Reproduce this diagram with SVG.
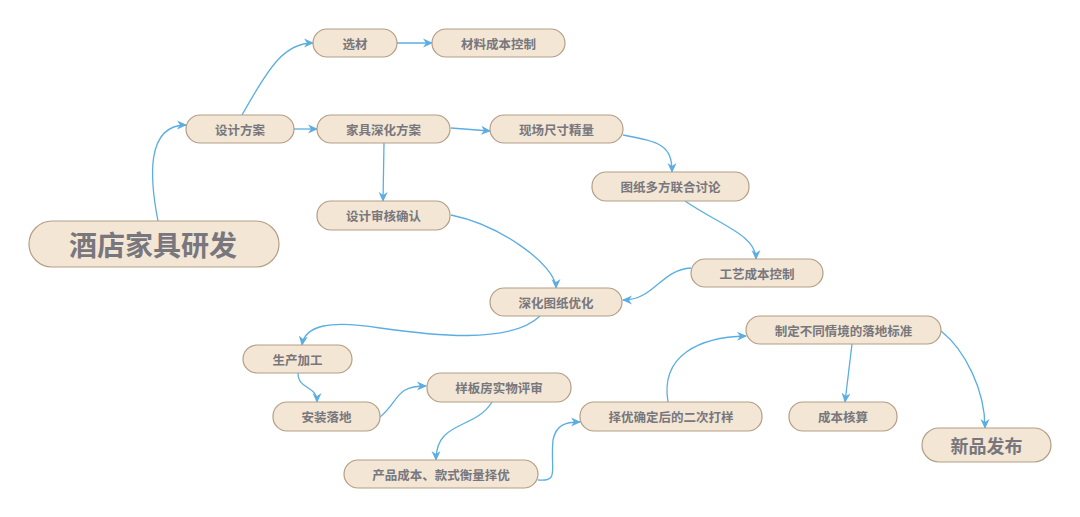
<svg xmlns="http://www.w3.org/2000/svg" width="1080" height="517" viewBox="0 0 1080 517">
<defs>
<style>
.n{fill:#f3e6d4;stroke:#b39e85;stroke-width:1.2}
.t{font-family:"Noto Sans CJK SC","Noto Sans",sans-serif;font-weight:bold;fill:#78777d;font-size:12.5px;text-anchor:middle;dominant-baseline:central}
.c path{fill:none;stroke:#5aaee3;stroke-width:1.3;marker-end:url(#a)}
</style>
<marker id="a" viewBox="0 0 10 10" refX="9" refY="5" markerWidth="10" markerHeight="10" markerUnits="userSpaceOnUse" orient="auto">
<path d="M0,0.5 L10,5 L0,9.5 L3,5 Z" fill="#5aaee3"/>
</marker>
</defs>
<rect width="1080" height="517" fill="#fff"/>
<g class="c" id="connectors">
<path d="M158,221 C150,180 145,125 186,125"/>
<path d="M242,115 C270,65 285,43 313,43"/>
<path d="M294,129 L317,129"/>
<path d="M397,43 L432,43"/>
<path d="M451,128 L490,131"/>
<path d="M384,143 L383,201"/>
<path d="M623,135 C660,142 672,145 672,172"/>
<path d="M685,201 C720,225 756,235 756,259"/>
<path d="M451,215 C500,225 556,265 556,288"/>
<path d="M691,268 C660,270 655,300 623,300"/>
<path d="M540,316 C510,345 430,335 380,328 C330,320 305,325 302,345"/>
<path d="M298,373 C298,390 317,385 317,402"/>
<path d="M380,417 C400,400 395,386 426,386"/>
<path d="M492,402 C475,430 436,420 436,460"/>
<path d="M538,480 C560,482 550,470 553,440 C556,425 565,422 580,422"/>
<path d="M668,402 C660,355 700,337 746,336"/>
<path d="M852,344 L845,402"/>
<path d="M941,331 C965,350 985,390 985,428"/>
</g>
<g id="root"><rect class="n" x="29" y="221" width="250" height="46" rx="23"/><text class="t" x="153" y="244" style="font-size:28px">酒店家具研发</text></g>
<g id="n1"><rect class="n" x="186" y="115" width="108" height="28" rx="14"/><text class="t" x="240" y="129">设计方案</text></g>
<g id="n2"><rect class="n" x="313" y="29" width="84" height="28" rx="14"/><text class="t" x="355" y="43">选材</text></g>
<g id="n3"><rect class="n" x="432" y="29" width="133" height="28" rx="14"/><text class="t" x="498.5" y="43">材料成本控制</text></g>
<g id="n4"><rect class="n" x="317" y="115" width="133" height="28" rx="14"/><text class="t" x="383.5" y="129">家具深化方案</text></g>
<g id="n5"><rect class="n" x="490" y="115" width="133" height="28" rx="14"/><text class="t" x="556.5" y="129">现场尺寸精量</text></g>
<g id="n6"><rect class="n" x="592" y="172" width="157" height="29" rx="14"/><text class="t" x="670.5" y="186.5">图纸多方联合讨论</text></g>
<g id="n7"><rect class="n" x="317" y="201" width="133" height="29" rx="14"/><text class="t" x="383.5" y="215.5">设计审核确认</text></g>
<g id="n8"><rect class="n" x="490" y="288" width="132" height="28" rx="14"/><text class="t" x="556" y="302">深化图纸优化</text></g>
<g id="n9"><rect class="n" x="691" y="259" width="132" height="28" rx="14"/><text class="t" x="757" y="273">工艺成本控制</text></g>
<g id="n10"><rect class="n" x="243" y="345" width="109" height="28" rx="14"/><text class="t" x="297.5" y="359">生产加工</text></g>
<g id="n11"><rect class="n" x="273" y="402" width="107" height="29" rx="14"/><text class="t" x="326.5" y="416.5">安装落地</text></g>
<g id="n12"><rect class="n" x="427" y="373" width="144" height="29" rx="14"/><text class="t" x="499" y="387.5">样板房实物评审</text></g>
<g id="n13"><rect class="n" x="344" y="460" width="194" height="28" rx="14"/><text class="t" x="441" y="474">产品成本、款式衡量择优</text></g>
<g id="n14"><rect class="n" x="580" y="402" width="182" height="29" rx="14"/><text class="t" x="671" y="416.5">择优确定后的二次打样</text></g>
<g id="n15"><rect class="n" x="746" y="316" width="195" height="28" rx="14"/><text class="t" x="843.5" y="330">制定不同情境的落地标准</text></g>
<g id="n16"><rect class="n" x="789" y="402" width="108" height="29" rx="14"/><text class="t" x="843" y="416.5">成本核算</text></g>
<g id="n17"><rect class="n" x="922" y="428" width="129" height="34" rx="17"/><text class="t" x="986.5" y="445" style="font-size:18px">新品发布</text></g>
</svg>
